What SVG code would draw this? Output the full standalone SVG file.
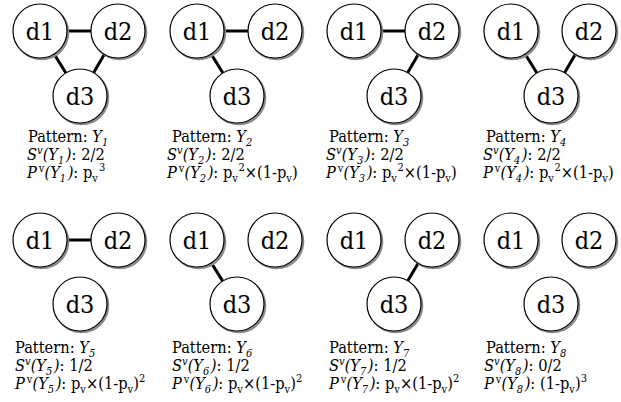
<svg xmlns="http://www.w3.org/2000/svg" width="621" height="402" viewBox="0 0 621 402" font-family="DejaVu Serif Condensed, DejaVu Serif" font-stretch="condensed">
<style>
.sh{fill:none;stroke:#8a8a8a;stroke-width:2.4}
.c{fill:#fff;stroke:#000;stroke-width:1.2}
.nt{font-size:25px;text-anchor:middle;fill:#000}
.e line{stroke:#000;stroke-width:3}
.lbl text{font-size:16.3px;fill:#000}
.i{font-style:italic}
.s{font-size:11px}
</style>
<rect width="621" height="402" fill="#fff"/>
<g id="connectors" class="e">
<line x1="67" y1="31" x2="91" y2="31"/>
<line x1="54.1" y1="54" x2="65.9" y2="73"/>
<line x1="104.4" y1="54.3" x2="93.6" y2="72.7"/>
<line x1="224" y1="31" x2="248" y2="31"/>
<line x1="211.1" y1="54" x2="222.9" y2="73"/>
<line x1="381" y1="31" x2="405" y2="31"/>
<line x1="418.4" y1="54.3" x2="407.6" y2="72.7"/>
<line x1="525.1" y1="54" x2="536.9" y2="73"/>
<line x1="575.4" y1="54.3" x2="564.6" y2="72.7"/>
<line x1="67" y1="240" x2="91" y2="240"/>
<line x1="211.3" y1="262.9" x2="222.7" y2="281.1"/>
<line x1="418.2" y1="263.2" x2="407.8" y2="280.8"/>
</g>
<g id="Y1-d1"><circle class="sh" cx="41.6" cy="32.6" r="26.5"/><circle class="c" cx="40" cy="31" r="27"/><text class="nt" x="40" y="40">d1</text></g>
<g id="Y1-d2"><circle class="sh" cx="119.6" cy="32.6" r="26.5"/><circle class="c" cx="118" cy="31" r="27"/><text class="nt" x="118" y="40">d2</text></g>
<g id="Y1-d3"><circle class="sh" cx="81.6" cy="97.6" r="26.5"/><circle class="c" cx="80" cy="96" r="27"/><text class="nt" x="80" y="105">d3</text></g>
<g id="Y2-d1"><circle class="sh" cx="198.6" cy="32.6" r="26.5"/><circle class="c" cx="197" cy="31" r="27"/><text class="nt" x="197" y="40">d1</text></g>
<g id="Y2-d2"><circle class="sh" cx="276.6" cy="32.6" r="26.5"/><circle class="c" cx="275" cy="31" r="27"/><text class="nt" x="275" y="40">d2</text></g>
<g id="Y2-d3"><circle class="sh" cx="238.6" cy="97.6" r="26.5"/><circle class="c" cx="237" cy="96" r="27"/><text class="nt" x="237" y="105">d3</text></g>
<g id="Y3-d1"><circle class="sh" cx="355.6" cy="32.6" r="26.5"/><circle class="c" cx="354" cy="31" r="27"/><text class="nt" x="354" y="40">d1</text></g>
<g id="Y3-d2"><circle class="sh" cx="433.6" cy="32.6" r="26.5"/><circle class="c" cx="432" cy="31" r="27"/><text class="nt" x="432" y="40">d2</text></g>
<g id="Y3-d3"><circle class="sh" cx="395.6" cy="97.6" r="26.5"/><circle class="c" cx="394" cy="96" r="27"/><text class="nt" x="394" y="105">d3</text></g>
<g id="Y4-d1"><circle class="sh" cx="512.6" cy="32.6" r="26.5"/><circle class="c" cx="511" cy="31" r="27"/><text class="nt" x="511" y="40">d1</text></g>
<g id="Y4-d2"><circle class="sh" cx="590.6" cy="32.6" r="26.5"/><circle class="c" cx="589" cy="31" r="27"/><text class="nt" x="589" y="40">d2</text></g>
<g id="Y4-d3"><circle class="sh" cx="552.6" cy="97.6" r="26.5"/><circle class="c" cx="551" cy="96" r="27"/><text class="nt" x="551" y="105">d3</text></g>
<g id="Y5-d1"><circle class="sh" cx="41.6" cy="241.6" r="26.5"/><circle class="c" cx="40" cy="240" r="27"/><text class="nt" x="40" y="249">d1</text></g>
<g id="Y5-d2"><circle class="sh" cx="119.6" cy="241.6" r="26.5"/><circle class="c" cx="118" cy="240" r="27"/><text class="nt" x="118" y="249">d2</text></g>
<g id="Y5-d3"><circle class="sh" cx="81.6" cy="305.6" r="26.5"/><circle class="c" cx="80" cy="304" r="27"/><text class="nt" x="80" y="313">d3</text></g>
<g id="Y6-d1"><circle class="sh" cx="198.6" cy="241.6" r="26.5"/><circle class="c" cx="197" cy="240" r="27"/><text class="nt" x="197" y="249">d1</text></g>
<g id="Y6-d2"><circle class="sh" cx="276.6" cy="241.6" r="26.5"/><circle class="c" cx="275" cy="240" r="27"/><text class="nt" x="275" y="249">d2</text></g>
<g id="Y6-d3"><circle class="sh" cx="238.6" cy="305.6" r="26.5"/><circle class="c" cx="237" cy="304" r="27"/><text class="nt" x="237" y="313">d3</text></g>
<g id="Y7-d1"><circle class="sh" cx="355.6" cy="241.6" r="26.5"/><circle class="c" cx="354" cy="240" r="27"/><text class="nt" x="354" y="249">d1</text></g>
<g id="Y7-d2"><circle class="sh" cx="433.6" cy="241.6" r="26.5"/><circle class="c" cx="432" cy="240" r="27"/><text class="nt" x="432" y="249">d2</text></g>
<g id="Y7-d3"><circle class="sh" cx="395.6" cy="305.6" r="26.5"/><circle class="c" cx="394" cy="304" r="27"/><text class="nt" x="394" y="313">d3</text></g>
<g id="Y8-d1"><circle class="sh" cx="512.6" cy="241.6" r="26.5"/><circle class="c" cx="511" cy="240" r="27"/><text class="nt" x="511" y="249">d1</text></g>
<g id="Y8-d2"><circle class="sh" cx="590.6" cy="241.6" r="26.5"/><circle class="c" cx="589" cy="240" r="27"/><text class="nt" x="589" y="249">d2</text></g>
<g id="Y8-d3"><circle class="sh" cx="552.6" cy="305.6" r="26.5"/><circle class="c" cx="551" cy="304" r="27"/><text class="nt" x="551" y="313">d3</text></g>

<g id="label-Y1" class="lbl">
<text x="28" y="142">Pattern: <tspan class="i">Y</tspan><tspan class="i s" y="146">1</tspan></text>
<text x="27" y="160"><tspan class="i">S</tspan><tspan class="i s" y="154">v</tspan><tspan class="i" y="160">(Y</tspan><tspan class="i s" y="164">1</tspan><tspan class="i" y="160" dx="1.5">)</tspan>: 2/2</text>
<text x="27" y="178"><tspan class="i">P</tspan><tspan class="s" y="172" dx="2">v</tspan><tspan class="i" y="178">(Y</tspan><tspan class="i s" y="182">1</tspan><tspan class="i" y="178" dx="1.5">)</tspan>: p<tspan class="s" y="182">v</tspan><tspan class="s" y="171" dx="1">3</tspan></text>
</g>
<g id="label-Y2" class="lbl">
<text x="172" y="142">Pattern: <tspan class="i">Y</tspan><tspan class="i s" y="146">2</tspan></text>
<text x="167" y="160"><tspan class="i">S</tspan><tspan class="i s" y="154">v</tspan><tspan class="i" y="160">(Y</tspan><tspan class="i s" y="164">2</tspan><tspan class="i" y="160" dx="1.5">)</tspan>: 2/2</text>
<text x="167" y="178"><tspan class="i">P</tspan><tspan class="s" y="172" dx="2">v</tspan><tspan class="i" y="178">(Y</tspan><tspan class="i s" y="182">2</tspan><tspan class="i" y="178" dx="1.5">)</tspan>: p<tspan class="s" y="182">v</tspan><tspan class="s" y="171" dx="0.5">2</tspan><tspan y="178">×(1-p</tspan><tspan class="s" y="182">v</tspan><tspan y="178">)</tspan></text>
</g>
<g id="label-Y3" class="lbl">
<text x="329" y="142">Pattern: <tspan class="i">Y</tspan><tspan class="i s" y="146">3</tspan></text>
<text x="326" y="160"><tspan class="i">S</tspan><tspan class="i s" y="154">v</tspan><tspan class="i" y="160">(Y</tspan><tspan class="i s" y="164">3</tspan><tspan class="i" y="160" dx="1.5">)</tspan>: 2/2</text>
<text x="326" y="178"><tspan class="i">P</tspan><tspan class="s" y="172" dx="2">v</tspan><tspan class="i" y="178">(Y</tspan><tspan class="i s" y="182">3</tspan><tspan class="i" y="178" dx="1.5">)</tspan>: p<tspan class="s" y="182">v</tspan><tspan class="s" y="171" dx="0.5">2</tspan><tspan y="178">×(1-p</tspan><tspan class="s" y="182">v</tspan><tspan y="178">)</tspan></text>
</g>
<g id="label-Y4" class="lbl">
<text x="486" y="142">Pattern: <tspan class="i">Y</tspan><tspan class="i s" y="146">4</tspan></text>
<text x="483" y="160"><tspan class="i">S</tspan><tspan class="i s" y="154">v</tspan><tspan class="i" y="160">(Y</tspan><tspan class="i s" y="164">4</tspan><tspan class="i" y="160" dx="1.5">)</tspan>: 2/2</text>
<text x="483" y="178"><tspan class="i">P</tspan><tspan class="s" y="172" dx="2">v</tspan><tspan class="i" y="178">(Y</tspan><tspan class="i s" y="182">4</tspan><tspan class="i" y="178" dx="1.5">)</tspan>: p<tspan class="s" y="182">v</tspan><tspan class="s" y="171" dx="0.5">2</tspan><tspan y="178">×(1-p</tspan><tspan class="s" y="182">v</tspan><tspan y="178">)</tspan></text>
</g>
<g id="label-Y5" class="lbl">
<text x="15" y="353">Pattern: <tspan class="i">Y</tspan><tspan class="i s" y="357">5</tspan></text>
<text x="15" y="371"><tspan class="i">S</tspan><tspan class="i s" y="365">v</tspan><tspan class="i" y="371">(Y</tspan><tspan class="i s" y="375">5</tspan><tspan class="i" y="371" dx="1.5">)</tspan>: 1/2</text>
<text x="15" y="389"><tspan class="i">P</tspan><tspan class="s" y="383" dx="2">v</tspan><tspan class="i" y="389">(Y</tspan><tspan class="i s" y="393">5</tspan><tspan class="i" y="389" dx="1.5">)</tspan>: p<tspan class="s" y="393">v</tspan><tspan y="389">×(1-p</tspan><tspan class="s" y="393">v</tspan><tspan y="389">)</tspan><tspan class="s" y="382">2</tspan></text>
</g>
<g id="label-Y6" class="lbl">
<text x="172" y="353">Pattern: <tspan class="i">Y</tspan><tspan class="i s" y="357">6</tspan></text>
<text x="172" y="371"><tspan class="i">S</tspan><tspan class="i s" y="365">v</tspan><tspan class="i" y="371">(Y</tspan><tspan class="i s" y="375">6</tspan><tspan class="i" y="371" dx="1.5">)</tspan>: 1/2</text>
<text x="172" y="389"><tspan class="i">P</tspan><tspan class="s" y="383" dx="2">v</tspan><tspan class="i" y="389">(Y</tspan><tspan class="i s" y="393">6</tspan><tspan class="i" y="389" dx="1.5">)</tspan>: p<tspan class="s" y="393">v</tspan><tspan y="389">×(1-p</tspan><tspan class="s" y="393">v</tspan><tspan y="389">)</tspan><tspan class="s" y="382">2</tspan></text>
</g>
<g id="label-Y7" class="lbl">
<text x="329" y="353">Pattern: <tspan class="i">Y</tspan><tspan class="i s" y="357">7</tspan></text>
<text x="329" y="371"><tspan class="i">S</tspan><tspan class="i s" y="365">v</tspan><tspan class="i" y="371">(Y</tspan><tspan class="i s" y="375">7</tspan><tspan class="i" y="371" dx="1.5">)</tspan>: 1/2</text>
<text x="329" y="389"><tspan class="i">P</tspan><tspan class="s" y="383" dx="2">v</tspan><tspan class="i" y="389">(Y</tspan><tspan class="i s" y="393">7</tspan><tspan class="i" y="389" dx="1.5">)</tspan>: p<tspan class="s" y="393">v</tspan><tspan y="389">×(1-p</tspan><tspan class="s" y="393">v</tspan><tspan y="389">)</tspan><tspan class="s" y="382">2</tspan></text>
</g>
<g id="label-Y8" class="lbl">
<text x="486" y="353">Pattern: <tspan class="i">Y</tspan><tspan class="i s" y="357">8</tspan></text>
<text x="484" y="371"><tspan class="i">S</tspan><tspan class="i s" y="365">v</tspan><tspan class="i" y="371">(Y</tspan><tspan class="i s" y="375">8</tspan><tspan class="i" y="371" dx="1.5">)</tspan>: 0/2</text>
<text x="484" y="389"><tspan class="i">P</tspan><tspan class="s" y="383" dx="2">v</tspan><tspan class="i" y="389">(Y</tspan><tspan class="i s" y="393">8</tspan><tspan class="i" y="389" dx="1.5">)</tspan>: (1-p<tspan class="s" y="393">v</tspan><tspan y="389">)</tspan><tspan class="s" y="382">3</tspan></text>
</g>
</svg>
